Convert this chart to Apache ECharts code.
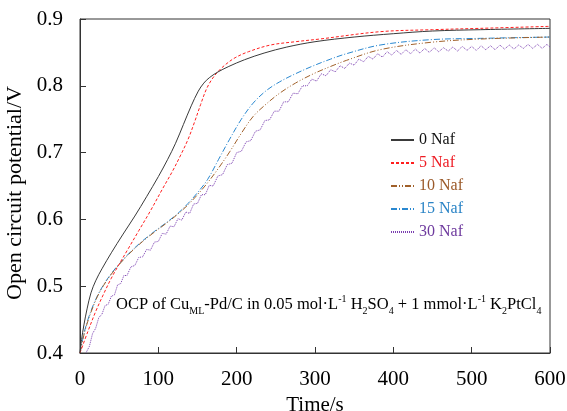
<!DOCTYPE html>
<html>
<head>
<meta charset="utf-8">
<script src="https://cdn.jsdelivr.net/npm/echarts@6/dist/echarts.min.js"></script>
<style>
  html, body { margin: 0; padding: 0; background: #fff; }
  #chart { width: 567px; height: 411px; }
</style>
</head>
<body>
<div id="chart"></div>
<script>
// series names
var seriesNames = ['0 Naf', '5 Naf', '10 Naf', '15 Naf', '30 Naf'];

// [time/s, potential/V]
var naf0 = [[0,0.400],[2,0.420],[5,0.442],[9,0.466],[14,0.490],[20,0.508],[28,0.526],[40,0.550],[55,0.578],
  [70,0.605],[85,0.634],[100,0.664],[112,0.690],[122,0.714],[132,0.742],[142,0.770],[151,0.792],[158,0.804],
  [165,0.812],[175,0.820],[190,0.829],[210,0.839],[235,0.849],[264,0.858],[300,0.866],[350,0.873],[400,0.878],
  [450,0.882],[511,0.884],[600,0.886]];
var naf5 = [[0,0.400],[10,0.432],[20,0.462],[30,0.488],[40,0.512],[50,0.533],[60,0.553],[75,0.583],[90,0.613],
  [105,0.645],[118,0.672],[128,0.695],[138,0.720],[146,0.745],[154,0.772],[161,0.794],[168,0.809],[176,0.821],
  [186,0.832],[198,0.842],[215,0.851],[243,0.861],[275,0.866],[306,0.870],[383,0.881],[450,0.884],[511,0.886],
  [600,0.889]];
var naf10 = [[0,0.400],[4,0.422],[8,0.440],[14,0.461],[22,0.484],[30,0.501],[40,0.518],[52,0.535],[65,0.551],
  [80,0.567],[95,0.581],[110,0.594],[125,0.608],[138,0.622],[150,0.637],[163,0.655],[177,0.677],[191,0.701],
  [206,0.729],[221,0.754],[238,0.773],[255,0.789],[275,0.804],[298,0.818],[320,0.829],[340,0.838],[383,0.854],
  [447,0.865],[511,0.870],[600,0.873]];
var naf15 = [[0,0.400],[4,0.424],[8,0.442],[14,0.463],[22,0.485],[30,0.502],[40,0.519],[52,0.536],[65,0.552],
  [80,0.568],[95,0.582],[110,0.595],[125,0.609],[138,0.624],[150,0.640],[163,0.660],[177,0.690],[191,0.720],
  [206,0.750],[221,0.774],[238,0.793],[255,0.806],[275,0.818],[298,0.830],[320,0.840],[340,0.848],[383,0.861],
  [447,0.869],[511,0.871],[600,0.873]];
var naf30 = [[8,0.401],[12,0.410],[16,0.429],[20,0.437],[24,0.453],[28,0.458],[32,0.471],[36,0.473],[40,0.485],
  [44,0.487],[48,0.502],[52,0.504],[56,0.516],[60,0.516],[65,0.529],[70,0.531],[75,0.543],[80,0.544],[85,0.555],
  [90,0.554],[95,0.566],[100,0.567],[105,0.579],[110,0.578],[115,0.590],[120,0.589],[125,0.601],[130,0.599],
  [135,0.611],[140,0.609],[145,0.623],[150,0.624],[155,0.637],[160,0.637],[165,0.651],[170,0.650],[176,0.665],
  [182,0.667],[188,0.682],[194,0.684],[200,0.700],[206,0.702],[212,0.716],[218,0.718],[224,0.732],[230,0.734],
  [236,0.748],[242,0.749],[248,0.762],[254,0.762],[260,0.776],[266,0.776],[272,0.789],[278,0.788],[284,0.800],
  [290,0.800],[296,0.810],[302,0.807],[308,0.818],[314,0.815],[320,0.824],[326,0.821],[332,0.830],[338,0.826],
  [344,0.834],[350,0.831],[356,0.840],[362,0.836],[368,0.844],[374,0.840],[380,0.848],[386,0.843],[392,0.851],
  [398,0.846],[404,0.853],[410,0.847],[416,0.854],[422,0.848],[428,0.855],[434,0.849],[440,0.856],[446,0.850],
  [452,0.857],[458,0.851],[464,0.857],[470,0.852],[476,0.858],[482,0.852],[488,0.859],[494,0.853],[500,0.859],
  [506,0.853],[512,0.860],[518,0.854],[524,0.860],[530,0.854],[536,0.861],[542,0.855],[548,0.861],[554,0.855],
  [560,0.861],[566,0.856],[572,0.862],[578,0.856],[584,0.862],[590,0.856],[596,0.862],[600,0.858]];

// axis ticks
var xTicks = [0, 100, 200, 300, 400, 500, 600];
var yTicks = [0.4, 0.5, 0.6, 0.7, 0.8, 0.9];

var serif = '"Liberation Serif", "Times New Roman", serif';
var lineColors = ['#3a3a3a', '#ff1f1f', '#a0602a', '#2a88d0', '#7a3fb0'];
var textColors = ['#111111', '#ee1c24', '#9b5a2a', '#2b84c6', '#6e3a9e'];
var dashes = ['solid', [3, 2], [6, 2, 1, 2, 1, 2], [6, 2, 1, 2], [1, 1]];
var allData = [naf0, naf5, naf10, naf15, naf30];

var chart = echarts.init(document.getElementById('chart'));

var series = [];
for (var i = 0; i < seriesNames.length; i++) {
  series.push({
    name: seriesNames[i],
    type: 'line',
    data: allData[i],
    symbol: 'none',
    smooth: i < 4 ? 0.35 : false,
    lineStyle: { color: lineColors[i], width: 1, type: dashes[i] },
    itemStyle: { color: lineColors[i] },
    z: 10 - i
  });
}

var option = {
  animation: false,
  backgroundColor: '#ffffff',
  grid: {
    left: 80, right: 17, top: 19, bottom: 58,
    outerBoundsMode: 'none', containLabel: false,
    show: true, borderColor: '#333', borderWidth: 1
  },
  legend: {
    orient: 'vertical',
    left: 390,
    top: 131,
    padding: 0,
    itemWidth: 23,
    itemHeight: 14,
    itemGap: 5,
    itemStyle: { opacity: 0 },
    textStyle: { fontFamily: serif, fontSize: 16, lineHeight: 18 },
    data: seriesNames.map(function (n, i) {
      return { name: n, textStyle: { color: textColors[i] } };
    })
  },
  xAxis: {
    type: 'value',
    min: xTicks[0],
    max: xTicks[xTicks.length - 1],
    interval: 100,
    name: 'Time/s',
    nameLocation: 'middle',
    nameGap: 34,
    nameTextStyle: { fontFamily: serif, fontSize: 21, color: '#000' },
    axisLine: { lineStyle: { color: '#333', width: 1 } },
    axisTick: { inside: true, length: 6, lineStyle: { color: '#333' } },
    axisLabel: { fontFamily: serif, fontSize: 21, color: '#000', margin: 16 },
    splitLine: { show: false }
  },
  yAxis: {
    type: 'value',
    min: yTicks[0],
    max: yTicks[yTicks.length - 1],
    interval: 0.1,
    name: 'Open circuit potential/V',
    nameLocation: 'middle',
    nameGap: 49,
    nameTextStyle: { fontFamily: serif, fontSize: 22, color: '#000', padding: [0, 14, 0, 0] },
    axisLine: { show: true, lineStyle: { color: '#333', width: 1 } },
    axisTick: { show: true, inside: true, length: 6, lineStyle: { color: '#333' } },
    axisLabel: {
      fontFamily: serif, fontSize: 21, color: '#000', margin: 17,
      formatter: function (v) { return v.toFixed(1); }
    },
    splitLine: { show: false }
  },
  graphic: [{
    type: 'text',
    left: 116,
    top: 294,
    z: 20,
    style: {
      text: '{a|OCP of Cu}{s|ML}{a|-Pd/C in 0.05 mol\u00b7L}{p|-1}{a| H}{s|2}{a|SO}{s|4}' +
            '{a| + 1 mmol\u00b7L}{p|-1}{a| K}{s|2}{a|PtCl}{s|4}',
      fill: '#000',
      rich: {
        a: { fontFamily: serif, fontSize: 16.5, lineHeight: 22, verticalAlign: 'middle', color: '#000' },
        s: { fontFamily: serif, fontSize: 10, lineHeight: 10, verticalAlign: 'bottom', color: '#000' },
        p: { fontFamily: serif, fontSize: 10, lineHeight: 14, verticalAlign: 'top', color: '#000' }
      }
    }
  }],
  series: series
};

chart.setOption(option);
</script>
</body>
</html>
